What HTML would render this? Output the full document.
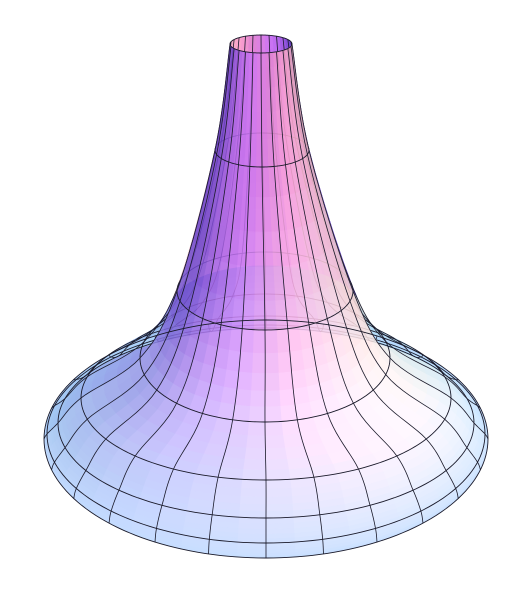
<!DOCTYPE html>
<html><head><meta charset="utf-8"><style>
html,body{margin:0;padding:0;background:#fff;}
svg{display:block;}
</style></head><body>
<svg id="plot" width="532" height="599" viewBox="0 0 532 599" xmlns="http://www.w3.org/2000/svg">
<rect x="0" y="0" width="532" height="599" fill="#fff"/>
<g id="backFill"></g>
<g id="backLines"></g>
<g id="frontFill" opacity="0.86"></g>
<g id="frontLines"></g>
</svg>
<script>
// ring (level curve) projected ellipses, top to bottom rim
const ringCx=[261,262,265,265,266,266,266,266];
const ringCy=[44,150,291,358,398,423,434,439];
const ringRx=[31,47,88,125,185,208,219,222];
const ringRy=[9,17,39,64,82,95,109,119];
const ringUp=[0.1,0.2,0.45,0.78,0.92,0.97,0.99,1.0];
const meridianCount=24;

const NS='http://www.w3.org/2000/svg';
const N=ringCx.length;
function cr(arr,t){
  let i=Math.floor(t); if(i>=N-1)i=N-2; if(i<0)i=0;
  const f=t-i;
  const p0=arr[Math.max(i-1,0)],p1=arr[i],p2=arr[i+1],p3=arr[Math.min(i+2,N-1)];
  return 0.5*((2*p1)+(-p0+p2)*f+(2*p0-5*p1+4*p2-p3)*f*f+(-p0+3*p1-3*p2+p3)*f*f*f);
}
function lin(arr,t){let i=Math.floor(t);if(i>=N-1)i=N-2;const f=t-i;return arr[i]*(1-f)+arr[i+1]*f;}
function pt(t,th){
  return [cr(ringCx,t)+cr(ringRx,t)*Math.cos(th), cr(ringCy,t)+cr(ringRy,t)*Math.sin(th)];
}
function norm(v){const l=Math.hypot(v[0],v[1],v[2]);return [v[0]/l,v[1]/l,v[2]/l];}
const amb=[45,45,160];
const lights=[
 {c:[165,80,80],d:norm([0.5,1,0.1])},
 {c:[135,175,95],d:norm([0.3,-0.2,1])},
 {c:[30,15,-55],d:norm([1,0.3,0])},
 {c:[75,25,50],d:norm([-1,0.3,-0.3])}
];
function shade(t,th,back){
  const nz=lin(ringUp,t);
  const h=Math.sqrt(1-nz*nz);
  let n=[Math.cos(th)*h,Math.sin(th)*h,nz];
  if(back && nz<0.5){n=[-n[0],-n[1],n[2]];}
  const c=amb.slice();
  for(const L of lights){
    const d=Math.max(0,n[0]*L.d[0]+n[1]*L.d[1]+n[2]*L.d[2]);
    for(let k=0;k<3;k++)c[k]+=L.c[k]*d;
  }
  return 'rgb('+c.map(v=>Math.round(Math.max(0,Math.min(255,v)))).join(',')+')';
}
const SUBT=5, SUBTH=2;
const rowsT=(N-1)*SUBT, colsTh=meridianCount*SUBTH;
const backG=document.getElementById('backFill');
const frontG=document.getElementById('frontFill');
for(let i=0;i<rowsT;i++){
  const t0=i/SUBT,t1=(i+1)/SUBT;
  for(let j=0;j<colsTh;j++){
    const a0=j/colsTh*2*Math.PI,a1=(j+1)/colsTh*2*Math.PI;
    const am=(a0+a1)/2;
    const back=Math.sin(am)<0;
    const p=[pt(t0,a0),pt(t0,a1),pt(t1,a1),pt(t1,a0)];
    const col=shade((t0+t1)/2,am,back);
    const poly=document.createElementNS(NS,'polygon');
    
    
    poly.setAttribute('points',p.map(q=>q[0].toFixed(2)+','+q[1].toFixed(2)).join(' '));
    poly.setAttribute('fill',col);
    poly.setAttribute('stroke',col);
    poly.setAttribute('stroke-width','0.6');
    (back?backG:frontG).appendChild(poly);
  }
}
const backL=document.getElementById('backLines');
const frontL=document.getElementById('frontLines');
function addPath(g,pts,name,w){
  const pa=document.createElementNS(NS,'path');
  
  
  pa.setAttribute('d','M'+pts.map(q=>q[0].toFixed(2)+','+q[1].toFixed(2)).join('L'));
  pa.setAttribute('fill','none');
  pa.setAttribute('stroke','#1a1a2a');
  pa.setAttribute('stroke-width',w);
  g.appendChild(pa);
}
for(let m=0;m<meridianCount;m++){
  const th=m/meridianCount*2*Math.PI;
  const pts=[];
  for(let s=0;s<=rowsT*2;s++)pts.push(pt(s/(2*SUBT),th));
  const back=Math.sin(th)<-1e-6;
  addPath(back?backL:frontL,pts,'meridian-line',0.8);
}
for(let r=0;r<N;r++){
  const bp=[],fp=[];
  for(let k=0;k<=90;k++){
    bp.push(pt(r,Math.PI+k/90*Math.PI));
    fp.push(pt(r,k/90*Math.PI));
  }
  addPath(r===0||r===N-1?frontL:backL,bp,'ring-line-back',0.9);
  addPath(frontL,fp,'ring-line-front',0.9);
}
</script>
</body></html>
